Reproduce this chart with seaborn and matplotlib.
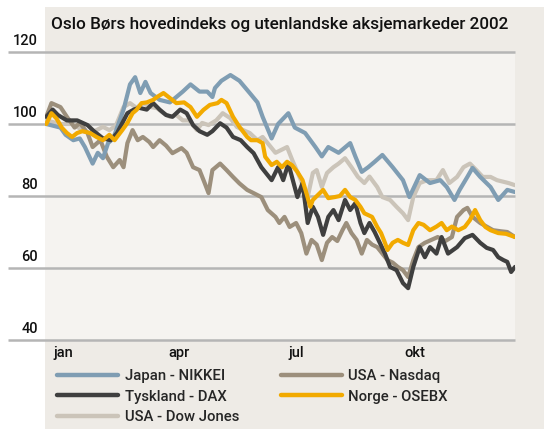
"""Oslo Børs vs foreign stock markets 2002 - indexed line chart."""

import matplotlib

matplotlib.use("Agg")
import matplotlib.pyplot as plt
import numpy as np
import pandas as pd
import seaborn as sns
from matplotlib.lines import Line2D
from matplotlib.patches import Rectangle

# day of year (2002) and index value
japan_day = [1, 12, 16, 22, 27, 31, 37, 41, 45, 49, 53, 61, 66, 70, 74, 78, 82, 89, 97, 107,
             113, 120, 126, 130, 132, 137, 144, 151, 159, 165, 169, 176, 181, 189, 194, 202,
             210, 215, 220, 228, 237, 241, 246, 251, 256, 262, 270, 278, 283, 291, 299, 307,
             312, 318, 322, 328, 332, 338, 346, 352, 359, 365]
japan_val = [100, 99, 97, 95.5, 96, 93.6, 89, 92, 90.5, 94.7, 96, 104, 111, 113, 108.6, 111.7,
             108.6, 106.7, 106, 109, 111, 109, 109, 107.5, 110, 112, 113.6, 112, 108.6, 106,
             102, 96, 100, 103, 99, 97.5, 93.6, 91, 93.6, 92, 94.7, 91, 86.7, 88, 89.5, 91.4,
             88, 84.4, 79.7, 85.8, 83.6, 84.4, 82.5, 78.9, 81.7, 85.3, 87.8, 85.3, 82.5, 78.9,
             81.7, 81.1]

dax_day = [1, 6, 10, 17, 25, 33, 38, 45, 51, 56, 64, 69, 73, 79, 84, 89, 94, 99, 105, 110,
           115, 120, 126, 130, 136, 141, 146, 152, 157, 162, 168, 176, 181, 185, 189, 196, 200,
           204, 208, 212, 216, 220, 224, 228, 233, 237, 241, 245, 248, 252, 256, 260, 264, 268,
           273, 278, 282, 286, 291, 295, 299, 304, 308, 313, 320, 326, 332, 338, 343, 348, 352,
           356, 359, 362, 365]
dax_val = [102, 104, 102.5, 101, 101, 99.7, 98, 96, 95.5, 97.5, 103, 104, 104.5, 104, 105.8,
           104, 102.5, 102, 104, 103, 99.7, 98, 97, 98, 100.2, 99, 96.4, 95.5, 93.6, 91.9, 88,
           84.4, 88, 84.4, 89, 79.7, 83.6, 72.5, 77, 74.2, 69.2, 74.2, 76.1, 73.3, 78.9, 76.1,
           78, 72.5, 69.7, 72.5, 70, 67, 64, 60.3, 59.4, 55.8, 54.4, 60.3, 65.8, 63, 65.8, 64,
           68.6, 64, 65.8, 68.3, 69.2, 67, 65.6, 65, 63, 62.2, 61.7, 58.9, 60.3]

dow_day = [1, 12, 22, 30, 35, 40, 45, 50, 55, 61, 66, 71, 76, 82, 87, 92, 97, 102, 107, 112,
           118, 122, 127, 133, 138, 144, 149, 154, 159, 165, 169, 179, 188, 192, 198, 204, 208,
           211, 215, 219, 224, 228, 233, 238, 243, 248, 252, 258, 262, 268, 273, 278, 282, 286,
           291, 297, 304, 309, 314, 320, 325, 330, 335, 340, 346, 351, 360, 365]
dow_val = [101, 100, 100, 98, 97.5, 98.3, 99.2, 98.3, 99.5, 104.7, 105.8, 104.5, 105.8, 104.7,
           104.4, 103, 102, 102.5, 101, 101, 98.3, 100.3, 99.7, 101, 103, 101.6, 99.2, 98.3,
           97.5, 95.5, 96.4, 92, 93.6, 90, 85, 79.7, 86.4, 87.2, 82.5, 86.4, 88, 89, 90.5, 88,
           85.3, 83.6, 85.4, 82.5, 79.7, 78.9, 77, 75.2, 73.3, 79.7, 83.6, 84.4, 84.4, 87.2,
           83.6, 85.3, 88, 89, 87.2, 85.3, 85.3, 84.4, 83.6, 83]

nasdaq_day = [1, 5, 12, 17, 23, 27, 33, 37, 43, 48, 53, 58, 61, 64, 68, 72, 76, 81, 84, 89,
              94, 99, 106, 110, 115, 120, 124, 127, 130, 136, 141, 146, 151, 157, 162, 168,
              173, 179, 182, 186, 190, 195, 199, 203, 207, 211, 215, 219, 223, 227, 231, 234,
              238, 242, 246, 250, 254, 258, 262, 266, 270, 274, 278, 282, 286, 290, 295, 300,
              305, 311, 316, 320, 325, 328, 332, 338, 343, 348, 354, 359, 365]
nasdaq_val = [102, 105.8, 104.7, 102, 99, 100.3, 97.5, 93.6, 95.5, 90.9, 88, 90, 88, 94.7,
              98.3, 95.5, 96.4, 95, 93.6, 95.5, 94, 91.9, 93.3, 92, 88, 87.2, 83.6, 80.8, 87.2,
              89, 87.2, 85.3, 83.5, 81.7, 80.8, 79.7, 76.1, 74.2, 72.5, 74.2, 71.4, 72.5, 69.7,
              64, 67.8, 66.5, 62.2, 67, 68.6, 67.5, 70.5, 72.5, 69.7, 67.8, 64, 67.8, 66.5,
              65.8, 64, 62.2, 61.5, 60.3, 59.4, 57.5, 62.2, 65.8, 67, 67.8, 68.6, 67.5, 68.6,
              74.2, 76.1, 76.7, 74.2, 72.5, 71.5, 70.5, 70.2, 70, 68.6]

norge_day = [1, 5, 9, 13, 17, 21, 25, 29, 35, 40, 45, 50, 54, 60, 64, 68, 71, 75, 79, 84, 87,
             92, 97, 102, 108, 113, 118, 123, 128, 134, 137, 141, 146, 151, 157, 160, 165, 169,
             171, 176, 180, 184, 188, 192, 196, 200, 203, 206, 208, 212, 216, 220, 225, 229,
             233, 237, 241, 245, 248, 254, 258, 261, 264, 266, 270, 274, 278, 282, 286, 290,
             294, 299, 304, 308, 312, 316, 321, 326, 330, 334, 338, 342, 346, 352, 358, 365]
norge_val = [100, 103, 101.5, 99, 97.5, 96.4, 97.5, 98, 97.5, 96.4, 95.5, 97, 95.5, 98.3,
             100.3, 103, 103.9, 105.8, 106, 106.7, 107.5, 108.6, 107.2, 105.8, 106, 104.7, 102,
             103.9, 105.3, 105.8, 106.7, 105.8, 102, 99.2, 96.4, 95.5, 95.5, 94.7, 90.9, 88.6,
             89.5, 88, 89.5, 88.5, 86.7, 84.4, 80.8, 77, 78.9, 80.3, 81.7, 79.4, 79.7, 80,
             81.7, 79.7, 78.9, 77, 75.2, 74.2, 71.4, 69.7, 67, 65, 67, 67.8, 67, 66.4, 70.5,
             72.5, 72, 70.5, 71.5, 72.5, 70.5, 71.5, 70.5, 71.4, 73.3, 76.1, 73.3, 71.4, 70.5,
             69.7, 69.5, 68.6]

series_names = ["USA - Dow Jones", "USA - Nasdaq", "Japan - NIKKEI", "Tyskland - DAX",
                "Norge - OSEBX"]
series_colors = ["#cbc4b9", "#9c8f7c", "#7f9db3", "#3f3f3f", "#f2aa00"]
legend_order = ["Japan - NIKKEI", "Tyskland - DAX", "USA - Dow Jones", "USA - Nasdaq",
                "Norge - OSEBX"]

month_ticks = [14, 104, 195, 287]
month_labels = ["jan", "apr", "jul", "okt"]
y_ticks = [40, 60, 80, 100, 120]

W, H = 544, 429
PANEL = "#eeebe6"
PLOT_BG = "#f5f3f0"
GRID = "#b5b5b5"
INK = "#111111"

sns.set_style("white")
plt.rcParams["font.family"] = ["Roboto", "DejaVu Sans"]
plt.rcParams["font.weight"] = "medium"

days = {
    "USA - Dow Jones": (dow_day, dow_val),
    "USA - Nasdaq": (nasdaq_day, nasdaq_val),
    "Japan - NIKKEI": (japan_day, japan_val),
    "Tyskland - DAX": (dax_day, dax_val),
    "Norge - OSEBX": (norge_day, norge_val),
}
frames = [pd.DataFrame({"day": d, "value": v, "series": name})
          for name, (d, v) in days.items()]
df = pd.concat(frames, ignore_index=True)
palette = dict(zip(series_names, series_colors))

fig = plt.figure(figsize=(W / 100, H / 100), dpi=100, facecolor="white")
fig.add_artist(Rectangle((45 / W, 0), 1 - 45 / W, 1 - 7 / H, transform=fig.transFigure,
                         facecolor=PANEL, edgecolor="none", zorder=0))
ax = fig.add_axes([45 / W, 1 - 340 / H, 470 / W, 288 / H])
ax.set_facecolor(PLOT_BG)

sns.lineplot(data=df, x="day", y="value", hue="series", hue_order=series_names,
             palette=palette, estimator=None, sort=False, lw=3.0, legend=False, ax=ax,
             zorder=3)

ax.hlines(y_ticks, -37 / 470, 1, transform=ax.get_yaxis_transform(), colors=GRID,
          lw=1.8, clip_on=False, zorder=2)
ax.set_xlim(0, 365)
ax.set_ylim(40, 120)
for v in y_ticks:
    ax.annotate(str(v), xy=(0, v), xycoords=ax.get_yaxis_transform(),
                xytext=(-5, 5), textcoords="offset points", ha="right", va="baseline",
                fontsize=10.5, color=INK)

ax.set_yticks([])
ax.set_xticks(month_ticks, month_labels)
ax.tick_params(axis="x", length=0, pad=4, labelsize=10.5, labelcolor=INK)
ax.set_xlabel("")
ax.set_ylabel("")
sns.despine(ax=ax, left=True, bottom=True)

fig.text(51 / W, 1 - 24 / H, "Oslo Børs hovedindeks og utenlandske aksjemarkeder 2002",
         fontsize=12.3, va="center", ha="left", color=INK)

handles = [Line2D([], [], color=palette[n], lw=3.2) for n in legend_order]
fig.legend(handles, legend_order, loc="upper left", ncol=2,
           bbox_to_anchor=(57 / W, 1 - 369 / H), bbox_transform=fig.transFigure,
           frameon=False, fontsize=10.7, handlelength=4.1, handletextpad=0.45,
           columnspacing=2.8, labelspacing=0.45, borderpad=0, borderaxespad=0)

fig.savefig("out.png", dpi=100, facecolor=fig.get_facecolor())
